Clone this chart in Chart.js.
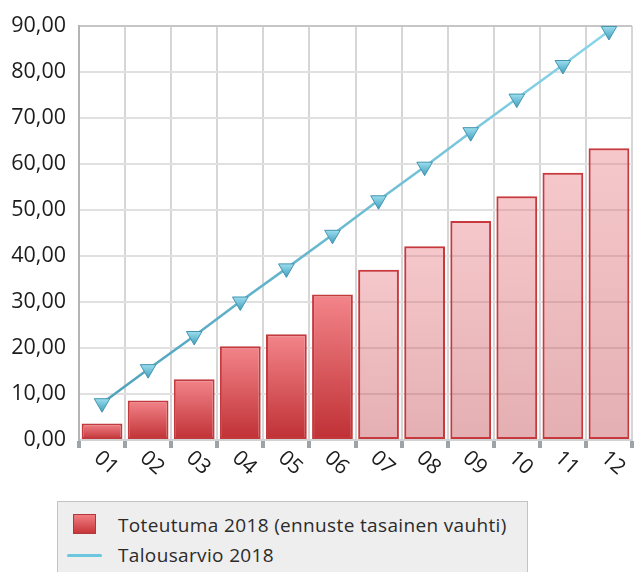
<!DOCTYPE html>
<html lang="fi">
<head>
<meta charset="utf-8">
<title>Toteutuma ja talousarvio 2018</title>
<script src="https://cdn.jsdelivr.net/npm/chart.js@4/dist/chart.umd.min.js"></script>
<style>
  html, body { margin: 0; padding: 0; background: #ffffff; }
  #wrap { position: relative; width: 635px; height: 572px; overflow: hidden; }
  #chart { position: absolute; left: 0; top: 0; }
  #legend {
    position: absolute; left: 57px; top: 501px; width: 471px; height: 90px;
    background: #eeeeee; border: 1.5px solid #c3c3c3; box-sizing: border-box;
    font-family: "Open Sans", sans-serif; font-size: 19px; letter-spacing: 0.35px; color: #2b2b2b;
    padding-top: 8px;
  }
  .item { position: relative; height: 30px; line-height: 30px; padding-left: 60px; white-space: nowrap; }
  .swatch { position: absolute; }
  .swatch.box { left: 15px; top: 4px; width: 21px; height: 18px;
    background: linear-gradient(#f27d81, #c63539); border: 1.5px solid #b3363a; }
  .swatch.line { left: 9px; top: 14px; width: 35px; height: 3px; border-radius: 2px;
    background: #6cc6de; }
</style>
</head>
<body>
<div id="wrap">
  <canvas id="chart" width="635" height="495"></canvas>
  <div id="legend"></div>
</div>
<script>
// Kuukaudet
const months = ['01', '02', '03', '04', '05', '06', '07', '08', '09', '10', '11', '12'];
// Kertymä, toteutuma 2018 (kuukaudet 07–12 ennuste tasaisella vauhdilla)
const toteutuma = [3.6, 8.6, 13.2, 20.4, 23.0, 31.6, 37.0, 42.1, 47.6, 53.0, 58.1, 63.4];
// Kertymä, talousarvio 2018
const talousarvio = [8.0, 15.4, 22.6, 30.1, 37.3, 44.6, 52.1, 59.4, 66.9, 74.2, 81.5, 88.9];
// Toteutuneiden kuukausien määrä; loput ovat ennustetta
const actualMonths = 6;
// Pystyakseli
const yMin = 0, yMax = 90, yStep = 10;

const labelFont = '"Open Sans", sans-serif';

function pixelOf(chart, value) {
  const y = chart.scales.y;
  if (!y || value == null) return NaN;
  return y.getPixelForValue(value);
}

function barFill(ctx) {
  const chart = ctx.chart;
  const top = pixelOf(chart, ctx.raw);
  const bottom = pixelOf(chart, 0);
  const actual = ctx.dataIndex < actualMonths;
  if (!Number.isFinite(top) || !Number.isFinite(bottom) || top === bottom) {
    return actual ? '#dc5a5e' : 'rgba(210,80,88,0.38)';
  }
  const g = chart.ctx.createLinearGradient(0, top, 0, bottom);
  if (actual) {
    g.addColorStop(0, '#f3858a');
    g.addColorStop(1, '#bf3034');
  } else {
    g.addColorStop(0, 'rgba(230,110,118,0.38)');
    g.addColorStop(1, 'rgba(185,45,52,0.38)');
  }
  return g;
}

function lineStroke(ctx) {
  const chart = ctx.chart;
  const area = chart.chartArea;
  if (!area || !Number.isFinite(area.top) || area.bottom === area.top) return '#5ab8d2';
  const g = chart.ctx.createLinearGradient(0, area.bottom, 0, area.top);
  g.addColorStop(0, '#4a9db7');
  g.addColorStop(1, '#8bd6eb');
  return g;
}

function markerFill(ctx) {
  const chart = ctx.chart;
  const py = pixelOf(chart, ctx.raw);
  if (!Number.isFinite(py)) return '#6cc6de';
  const g = chart.ctx.createLinearGradient(0, py - 5, 0, py + 9);
  g.addColorStop(0, '#9fe0f1');
  g.addColorStop(1, '#3f9dbb');
  return g;
}

// Vinot kuukausinimet x-akselin alle
const slantedMonths = {
  id: 'slantedMonths',
  afterDraw(chart) {
    const x = chart.scales.x;
    const c = chart.ctx;
    c.save();
    c.font = '21px ' + labelFont;
    c.fillStyle = '#1c1c1c';
    c.textAlign = 'left';
    c.textBaseline = 'middle';
    x.ticks.forEach((t, i) => {
      const px = x.getPixelForTick(i);
      c.save();
      c.translate(px - 5, x.top + 15);
      c.rotate(42 * Math.PI / 180);
      c.fillText(x.getLabelForValue(t.value), 0, 0);
      c.restore();
    });
    c.restore();
  }
};

const chart = new Chart(document.getElementById('chart'), {
  type: 'bar',
  data: {
    labels: months,
    datasets: [
      {
        type: 'bar',
        label: 'Toteutuma 2018 (ennuste tasainen vauhti)',
        data: toteutuma,
        backgroundColor: barFill,
        borderColor: (ctx) => ctx.dataIndex < actualMonths ? '#c23a3e' : '#c8393d',
        borderWidth: 2,
        borderSkipped: false,
        categoryPercentage: 1,
        barPercentage: 0.885,
        order: 2
      },
      {
        type: 'line',
        label: 'Talousarvio 2018',
        data: talousarvio,
        borderColor: lineStroke,
        borderWidth: 2.5,
        pointStyle: 'triangle',
        pointRotation: 180,
        pointRadius: 9,
        pointBackgroundColor: markerFill,
        pointBorderColor: '#4395af',
        pointBorderWidth: 1,
        tension: 0,
        clip: false,
        order: 1
      }
    ]
  },
  options: {
    responsive: false,
    animation: false,
    layout: { autoPadding: false, padding: { left: 0, top: 20, right: 3, bottom: 0 } },
    plugins: {
      legend: { display: false },
      tooltip: { enabled: false }
    },
    scales: {
      x: {
        offset: true,
        grid: {
          offset: true,
          color: '#d6d6d6',
          lineWidth: 2,
          drawTicks: true,
          tickLength: 8,
          tickWidth: 4,
          tickColor: '#9ea3a8'
        },
        border: { display: true, color: '#d2d2d2', width: 2 },
        ticks: { display: false },
        afterFit(scale) { scale.height = 55; }
      },
      y: {
        min: yMin,
        max: yMax,
        ticks: {
          stepSize: yStep,
          padding: 13,
          color: '#1c1c1c',
          font: { family: labelFont, size: 21.5 },
          callback: (v) => v.toFixed(2).replace('.', ',')
        },
        grid: {
          color: (ctx) => ctx.tick && ctx.tick.value === yMax ? '#c6c6c6' : '#e0e0e0',
          lineWidth: 2,
          drawTicks: false
        },
        border: { display: true, color: '#b4b4b4', width: 2 },
        afterFit(scale) { scale.width = 79; }
      }
    }
  },
  plugins: [slantedMonths]
});

// Selite
const legend = document.getElementById('legend');
chart.data.datasets.forEach((ds) => {
  const item = document.createElement('div');
  item.className = 'item';
  const sw = document.createElement('span');
  sw.className = 'swatch ' + (ds.type === 'line' ? 'line' : 'box');
  item.appendChild(sw);
  item.appendChild(document.createTextNode(ds.label));
  legend.appendChild(item);
});
</script>
</body>
</html>
